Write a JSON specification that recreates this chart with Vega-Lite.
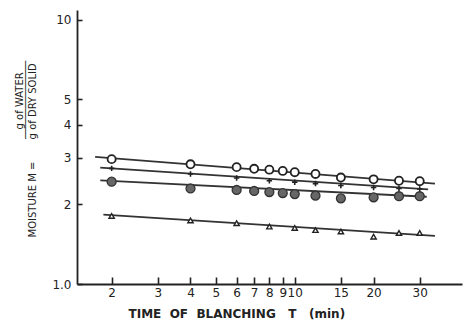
{
  "$schema": "https://vega.github.io/schema/vega-lite/v6.json",
  "autosize": {"type": "none"},
  "padding": {"left": 77, "top": 10, "right": 2, "bottom": 37},
  "width": 385,
  "height": 274,
  "background": "white",
  "config": {"view": {"stroke": null}, "font": "DejaVu Sans"},
  "datasets": {
    "points": [
      {"series": "O", "t": 2, "M": 2.97}, {"series": "O", "t": 4, "M": 2.84}, {"series": "O", "t": 6, "M": 2.77},
      {"series": "O", "t": 7, "M": 2.73}, {"series": "O", "t": 8, "M": 2.71}, {"series": "O", "t": 9, "M": 2.68},
      {"series": "O", "t": 10, "M": 2.65}, {"series": "O", "t": 12, "M": 2.61}, {"series": "O", "t": 15, "M": 2.53},
      {"series": "O", "t": 20, "M": 2.49}, {"series": "O", "t": 25, "M": 2.46}, {"series": "O", "t": 30, "M": 2.45},
      {"series": "X", "t": 2, "M": 2.74}, {"series": "X", "t": 4, "M": 2.61}, {"series": "X", "t": 6, "M": 2.52},
      {"series": "X", "t": 8, "M": 2.46}, {"series": "X", "t": 10, "M": 2.43}, {"series": "X", "t": 12, "M": 2.40},
      {"series": "X", "t": 15, "M": 2.36}, {"series": "X", "t": 20, "M": 2.32}, {"series": "X", "t": 25, "M": 2.30},
      {"series": "X", "t": 30, "M": 2.29},
      {"series": "F", "t": 2, "M": 2.44}, {"series": "F", "t": 4, "M": 2.30}, {"series": "F", "t": 6, "M": 2.27},
      {"series": "F", "t": 7, "M": 2.25}, {"series": "F", "t": 8, "M": 2.23}, {"series": "F", "t": 9, "M": 2.21},
      {"series": "F", "t": 10, "M": 2.19}, {"series": "F", "t": 12, "M": 2.16}, {"series": "F", "t": 15, "M": 2.11},
      {"series": "F", "t": 20, "M": 2.13}, {"series": "F", "t": 25, "M": 2.15}, {"series": "F", "t": 30, "M": 2.15},
      {"series": "T", "t": 2, "M": 1.81}, {"series": "T", "t": 4, "M": 1.74}, {"series": "T", "t": 6, "M": 1.70},
      {"series": "T", "t": 8, "M": 1.65}, {"series": "T", "t": 10, "M": 1.63}, {"series": "T", "t": 12, "M": 1.60},
      {"series": "T", "t": 15, "M": 1.58}, {"series": "T", "t": 20, "M": 1.51}, {"series": "T", "t": 25, "M": 1.56},
      {"series": "T", "t": 30, "M": 1.56}
    ],
    "lines": [
      {"series": "O", "t": 1.73, "M": 3.03}, {"series": "O", "t": 34.3, "M": 2.40},
      {"series": "X", "t": 1.81, "M": 2.76}, {"series": "X", "t": 32.3, "M": 2.28},
      {"series": "F", "t": 1.81, "M": 2.47}, {"series": "F", "t": 31.9, "M": 2.14},
      {"series": "T", "t": 1.86, "M": 1.83}, {"series": "T", "t": 34.3, "M": 1.52}
    ]
  },
  "encoding": {
    "x": {
      "field": "t", "type": "quantitative",
      "scale": {"type": "log", "domain": [1.475, 43.5], "nice": false, "zero": false},
      "axis": {
        "values": [2, 3, 4, 5, 6, 7, 8, 9, 10, 15, 20, 30],
        "format": "d",
        "grid": false,
        "domainColor": "#222", "domainWidth": 1.8,
        "tickColor": "#222", "tickWidth": 1.6, "tickSize": -7,
        "labelFontSize": 12, "labelColor": "#222", "labelPadding": 10,
        "title": "TIME\u00a0 OF\u00a0 BLANCHING\u00a0\u00a0 T\u00a0\u00a0 (min)",
        "titleFontSize": 12, "titleFontWeight": "bold", "titleColor": "#222",
        "titleAnchor": "start", "titleAlign": "left", "titleX": 51, "titleY": 29, "titleBaseline": "middle"
      }
    },
    "y": {
      "field": "M", "type": "quantitative",
      "scale": {"type": "log", "domain": [1, 10.9], "nice": false, "zero": false},
      "axis": {
        "values": [1, 2, 3, 4, 5, 10],
        "labelExpr": "datum.value == 1 ? '1.0' : datum.label",
        "grid": false,
        "domainColor": "#222", "domainWidth": 1.8,
        "tickColor": "#222", "tickWidth": 1.6, "tickSize": -5,
        "labelFontSize": 12, "labelColor": "#222", "labelPadding": 11,
        "title": [
          "\u200b\u00a0\u00a0\u00a0\u00a0\u00a0\u00a0\u00a0\u00a0\u00a0\u00a0\u00a0\u00a0\u00a0\u00a0\u00a0\u00a0\u00a0\u00a0\u00a0\u00a0\u00a0\u00a0\u00a0\u00a0\u00a0\u00a0\u00a0\u00a0\u00a0\u00a0\u00a0\u00a0\u00a0\u00a0g of WATER",
          "\u200b\u00a0\u00a0\u00a0\u00a0\u00a0\u00a0\u00a0\u00a0\u00a0\u00a0\u00a0\u00a0\u00a0\u00a0\u00a0\u00a0\u00a0\u00a0\u00a0\u00a0\u00a0\u00a0\u00a0\u00a0\u00a0\u00a0\u00a0\u00a0\u00a0\u00a0\u00a0\u2500\u2500\u2500\u2500\u2500\u2500\u2500\u2500\u2500\u2500\u2500\u2500\u2500",
          "MOISTURE M =\u00a0\u00a0\u00a0\u00a0\u00a0\u00a0\u00a0g of DRY SOLID"
        ],
        "titleFontSize": 10, "titleFontWeight": "normal", "titleColor": "#222",
        "titleLineHeight": 6.8,
        "titleAngle": -90, "titleAlign": "left", "titleBaseline": "middle",
        "titleAnchor": "start", "titleX": -58, "titleY": 227
      }
    }
  },
  "layer": [
    {
      "data": {"name": "lines"},
      "mark": {"type": "line", "color": "#333", "strokeWidth": 1.8},
      "encoding": {"detail": {"field": "series"}}
    },
    {
      "data": {"name": "points"},
      "transform": [{"filter": "datum.series == 'O'"}],
      "mark": {"type": "point", "shape": "circle", "filled": true, "fill": "white", "stroke": "#222", "strokeWidth": 1.8, "size": 65, "opacity": 1}
    },
    {
      "data": {"name": "points"},
      "transform": [{"filter": "datum.series == 'X'"}],
      "mark": {"type": "point", "shape": "M-1,0H1M0,-1V1", "filled": false, "stroke": "#222", "strokeWidth": 1.6, "size": 30, "opacity": 1}
    },
    {
      "data": {"name": "points"},
      "transform": [{"filter": "datum.series == 'F'"}],
      "mark": {"type": "point", "shape": "circle", "filled": true, "fill": "#666", "stroke": "#333", "strokeWidth": 1.3, "size": 80, "opacity": 1}
    },
    {
      "data": {"name": "points"},
      "transform": [{"filter": "datum.series == 'T'"}],
      "mark": {"type": "point", "shape": "triangle-up", "filled": true, "fill": "white", "stroke": "#222", "strokeWidth": 1.4, "size": 28, "opacity": 1}
    }
  ]
}
